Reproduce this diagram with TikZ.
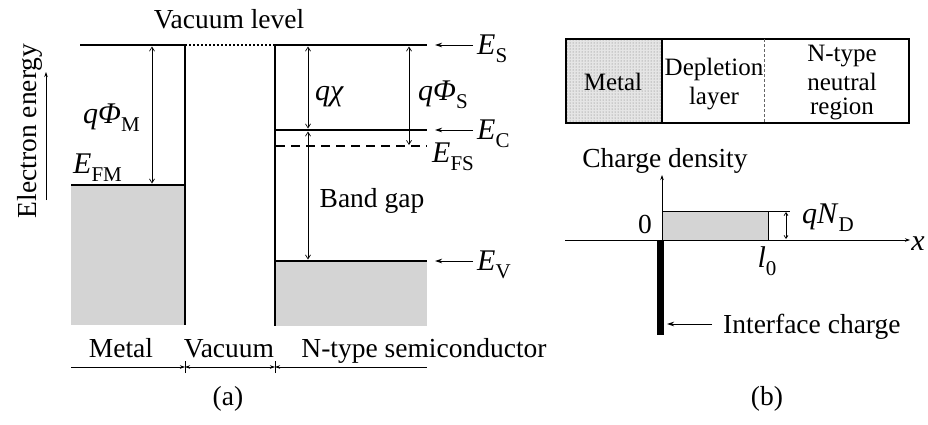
\documentclass[tikz,border=0pt]{standalone}
\usepackage{fontspec}
\setmainfont{Liberation Serif}
\usetikzlibrary{arrows.meta,patterns}
\newcommand{\sbs}[1]{\raisebox{-0.28em}{\fontsize{21}{21}\selectfont #1}}
\newcommand{\mlab}[2]{\textit{#1}\sbs{#2}}
\begin{document}
\begin{tikzpicture}[x=1pt,y=-1pt,
  txt/.style={font=\fontsize{27.5}{29}\selectfont, inner sep=0pt, anchor=base},
  boxtxt/.style={font=\fontsize{25}{27}\selectfont, inner sep=0pt, anchor=base},
  mth/.style={font=\fontsize{30}{31}\selectfont, inner sep=0pt, anchor=base west},
  band/.style={line width=2.8pt},
  wall/.style={line width=2.4pt},
  dim/.style={line width=0.7pt, {Straight Barb[length=4pt,width=5pt]}-{Straight Barb[length=4pt,width=5pt]}},
  ptr/.style={line width=0.9pt, -{Stealth[length=7pt,width=4.5pt]}},
  smallptr/.style={line width=0.7pt, -{Stealth[length=5pt,width=3.5pt]}},
  fillg/.style={fill=black!17}]
\useasboundingbox (0,0) rectangle (928,424);

% ---------------- panel (a) ----------------
\fill[fillg] (71,185) rectangle (184,325);
\fill[fillg] (276,261) rectangle (427,326);

\coordinate (vacL) at (80,45);
\coordinate (mTop) at (185,45);
\coordinate (mBot) at (185,325);
\coordinate (fmL) at (71,185);
\coordinate (fmR) at (185,185);
\coordinate (sTop) at (275,45);
\coordinate (sBot) at (275,326);
\coordinate (esR) at (427,45);
\coordinate (ecL) at (275,130);
\coordinate (ecR) at (427,130);
\coordinate (efL) at (276,146);
\coordinate (efR) at (427,146);
\coordinate (evL) at (275,261);
\coordinate (evR) at (427,261);

\draw[band] (vacL) -- (mTop);
\draw[band] (fmL) -- (fmR);
\draw[wall] ([yshift=-1.4pt]mTop) -- (mBot);
\draw[line width=2pt, dash pattern=on 2pt off 2pt] (mTop) -- (sTop);
\draw[wall] ([yshift=-1.4pt]sTop) -- (sBot);
\draw[band] (sTop) -- (esR);
\draw[band] (ecL) -- (ecR);
\draw[line width=2pt, dash pattern=on 9pt off 6pt] (efL) -- (efR);
\draw[band] (evL) -- (evR);

% double arrows
\coordinate (pmT) at (152,46.5); \coordinate (pmB) at (152,183.5);
\coordinate (chT) at (308,46.5); \coordinate (chB) at (308,128.5);
\coordinate (bgT) at (308,131.5); \coordinate (bgB) at (308,259.5);
\coordinate (psT) at (409,46.5); \coordinate (psB) at (409,145);
\draw[dim] (pmT) -- (pmB);
\draw[dim] (chT) -- (chB);
\draw[dim] (bgT) -- (bgB);
\draw[dim] (psT) -- (psB);

% pointers to levels
\coordinate (p1s) at (473,45);  \coordinate (p1e) at (435,45);
\coordinate (p2s) at (473,130); \coordinate (p2e) at (435,130);
\coordinate (p3s) at (473,261); \coordinate (p3e) at (435,261);
\draw[ptr] (p1s) -- (p1e);
\draw[ptr] (p2s) -- (p2e);
\draw[ptr] (p3s) -- (p3e);

\node[mth] (ES) at (477,54) {\mlab{E}{S}};
\node[mth] (EC) at (477,139) {\mlab{E}{C}};
\node[mth] (EFS) at (432,162) {\mlab{E}{FS}};
\node[mth] (EV) at (477,270) {\mlab{E}{V}};
\node[mth] (EFM) at (73,173) {\mlab{E}{FM}};
\node[mth] (qPM) at (83,123) {\textit{qΦ}\sbs{M}};
\node[mth] (qch) at (315,100) {\textit{qχ}};
\node[mth] (qPS) at (418,100) {\textit{qΦ}\sbs{S}};

\node[txt] (vac) at (229,28) {Vacuum level};
\node[txt] (bgap) at (372,207) {Band gap};
\node[txt, rotate=90] (ee) at (36,131) {Electron energy};
\coordinate (eeB) at (46,200); \coordinate (eeT) at (46,72);
\draw[smallptr] (eeB) -- (eeT);

\node[txt] (lm) at (121,357) {Metal};
\node[txt] (lv) at (229,357) {Vacuum};
\node[txt] (ls) at (424,357) {N-type semiconductor};
\node[txt] (la) at (228,405) {(a)};

\coordinate (d0) at (71,367);
\coordinate (d1) at (185,367);
\coordinate (d2) at (275,367);
\coordinate (d3) at (427,367);
\draw[line width=0.7pt, -{Stealth[length=5pt,width=3.5pt]}] (d0) -- (d1);
\draw[line width=0.7pt, {Stealth[length=5pt,width=3.5pt]}-{Stealth[length=5pt,width=3.5pt]}] (d1) -- (d2);
\draw[line width=0.7pt, {Stealth[length=5pt,width=3.5pt]}-] (d2) -- (d3);
\draw[line width=0.7pt] ([yshift=-6pt]d1) -- ([yshift=6pt]d1);
\draw[line width=0.7pt] ([yshift=-6pt]d2) -- ([yshift=6pt]d2);

% ---------------- panel (b) ----------------
\fill[black!10] (566,39) rectangle (662,123);
\fill[pattern=dots, pattern color=black!55] (566,39) rectangle (662,123);
\draw[line width=1.5pt] (566,39) rectangle (909,123);
\draw[line width=2.6pt] (566,39) rectangle (662,123);
\draw[line width=0.7pt, black!60, dash pattern=on 3pt off 2pt] (764,39) -- (764,123);

\node[boxtxt] (bm) at (613,90) {Metal};
\node[boxtxt] (bd1) at (714,75) {Depletion};
\node[boxtxt] (bd2) at (714,104) {layer};
\node[boxtxt] (bn1) at (842,61) {N-type};
\node[boxtxt] (bn2) at (842,90) {neutral};
\node[boxtxt] (bn3) at (842,114) {region};

\node[txt] (cd) at (665,167) {Charge density};

\coordinate (o) at (662,240);
\coordinate (yT) at (662,175);
\coordinate (xL) at (565,240);
\coordinate (xR) at (910,240);
\fill[fillg] (662,211) rectangle (768,240);
\draw[line width=0.7pt] (662,211) -- (790,211);
\draw[line width=0.7pt] (768,211) -- (768,240);
\draw[line width=0.8pt] (xL) -- (o);
\draw[smallptr] (o) -- (xR);
\draw[smallptr] (o) -- (yT);
\coordinate (ndT) at (786,212); \coordinate (ndB) at (786,239);
\draw[line width=0.7pt, {Straight Barb[length=3pt,width=4pt]}-{Straight Barb[length=3pt,width=4pt]}] (ndT) -- (ndB);

\fill (657,240) rectangle (664,335);

\node[mth] (qnd) at (802,223) {\textit{qN}\sbs{D}};
\node[txt] (zero) at (645,233) {0};
\node[mth, anchor=base] (l0) at (767,267) {\textit{l}\sbs{0}};
\node[mth, anchor=base] (xl) at (918,250) {\textit{x}};

\coordinate (icS) at (712,324); \coordinate (icE) at (667,324);
\draw[ptr] (icS) -- (icE);
\node[txt, anchor=base west] (ic) at (723,333) {Interface charge};
\node[txt] (lb) at (767,405) {(b)};
\end{tikzpicture}
\end{document}
